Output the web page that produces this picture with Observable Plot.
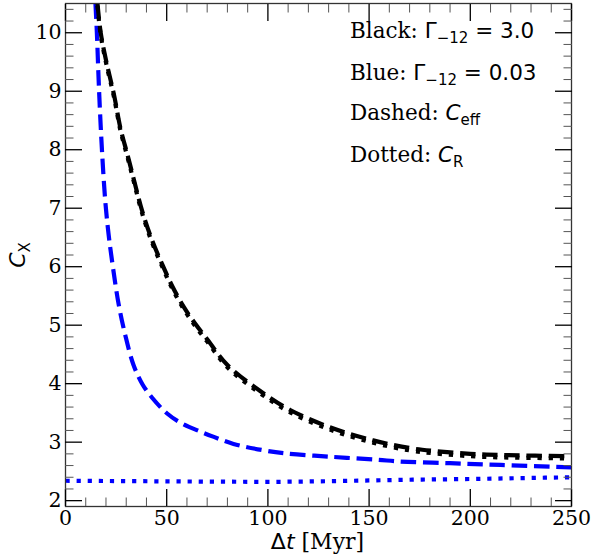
<!DOCTYPE html>
<html><head><meta charset="utf-8">
<script src="https://cdn.jsdelivr.net/npm/d3@7"></script>
<script src="https://cdn.jsdelivr.net/npm/@observablehq/plot@0.6"></script>
<style>body{margin:0;background:#fff}</style>
</head><body><div id="chart"></div>
<script>
// Black (Gamma_-12 = 3.0), dashed C_eff
const blackEffX = [15.8, 17.4, 20.2, 23.9, 27.2, 30.5, 33.7, 37.9, 42.8, 47.8, 52.7, 58.5, 64.2, 70, 80, 96, 111, 131, 152, 170, 182, 200, 215, 232, 250];
const blackEffY = [10.5, 10.0, 9.5, 8.95, 8.36, 7.93, 7.5, 6.95, 6.45, 6.04, 5.67, 5.31, 5.02, 4.76, 4.32, 3.88, 3.55, 3.25, 3.03, 2.9, 2.85, 2.8, 2.78, 2.77, 2.76];
// Black, dotted C_R
const blackRX = [15.8, 17.4, 20.2, 23.9, 27.2, 30.5, 33.7, 37.9, 42.8, 47.8, 52.7, 58.5, 64.2, 70, 80, 96, 111, 131, 152, 170, 182, 200, 215, 232, 250];
const blackRY = [10.46, 9.96, 9.46, 8.91, 8.32, 7.89, 7.46, 6.91, 6.41, 6.0, 5.63, 5.27, 4.98, 4.72, 4.28, 3.84, 3.51, 3.21, 2.99, 2.86, 2.81, 2.76, 2.74, 2.73, 2.72];
// Blue (Gamma_-12 = 0.03), dashed C_eff
const blueEffX = [14.8, 15.5, 16.6, 18.0, 19.7, 21.3, 23.4, 26.3, 29.6, 33.6, 38, 42.8, 50.2, 57, 66.7, 73.3, 83, 98, 108, 131, 154, 165, 190, 215, 250];
const blueEffY = [10.5, 10.0, 9.0, 8.0, 7.1, 6.55, 6.0, 5.35, 4.82, 4.32, 3.99, 3.76, 3.49, 3.33, 3.18, 3.09, 2.97, 2.86, 2.81, 2.75, 2.70, 2.67, 2.64, 2.61, 2.57];
// Blue, dotted C_R
const blueRX = [0, 25, 50, 75, 100, 125, 150, 175, 200, 225, 250];
const blueRY = [2.34, 2.335, 2.33, 2.325, 2.322, 2.33, 2.345, 2.36, 2.37, 2.385, 2.40];

const xMajor = [0, 50, 100, 150, 200, 250];
const yMajor = [2, 3, 4, 5, 6, 7, 8, 9, 10];
const xMinor = d3.range(0, 251, 10).filter(v => v % 50 !== 0);
const yMinor = d3.range(20, 106, 2).filter(v => v % 10 !== 0).map(v => v / 10);

const toRows = (xs, ys) => xs.map((x, i) => ({x, y: ys[i]}));

const BLUE = "#0000ff";
const LW = 4.2;
const dashed = `${(3.7*LW).toFixed(1)},${(1.6*LW).toFixed(1)}`;
const dotted = `${LW},${(1.65*LW).toFixed(1)}`;

const SANS = "DejaVu Sans";
const SERIF = "DejaVu Serif";

function annotations(index, scales, values, dims) {
  const g = d3.create("svg:g").attr("text-anchor", "start");
  const fs = 21.5;
  const subFs = 15;
  const shift = 4.5;
  const x0 = 350;
  const lines = [
    {y: 38, parts: [["Black: ", SERIF], ["Γ", SANS], ["−12", SANS, "sub"], [" = 3.0", SANS]]},
    {y: 80, parts: [["Blue: ", SERIF], ["Γ", SANS], ["−12", SANS, "sub"], [" = 0.03", SANS]]},
    {y: 120, parts: [["Dashed: ", SERIF], ["C", SANS, "it"], ["eff", SANS, "sub"]]},
    {y: 162, parts: [["Dotted: ", SERIF], ["C", SANS, "it"], ["R", SANS, "sub"]]}
  ];
  for (const ln of lines) {
    const t = g.append("text").attr("x", x0).attr("y", ln.y).attr("font-size", fs)
      .attr("fill", "black").attr("text-anchor", "start");
    let sub = false;
    for (const [s, fam, kind] of ln.parts) {
      const ts = t.append("tspan").attr("font-family", fam).text(s);
      if (kind === "it") ts.attr("font-style", "italic");
      if (kind === "sub") { ts.attr("font-size", subFs).attr("dy", shift); sub = true; }
      else if (sub) { ts.attr("dy", -shift); sub = false; }
    }
  }
  // x label
  const xl = g.append("text").attr("x", 317.5).attr("y", 549).attr("font-size", 22)
    .attr("text-anchor", "middle").attr("fill", "black");
  xl.append("tspan").attr("font-family", SANS).text("Δ");
  xl.append("tspan").attr("font-family", SANS).attr("font-style", "italic").text("t");
  xl.append("tspan").attr("font-family", SERIF).text(" [Myr]");
  // y label
  const yl = g.append("text").attr("transform", "translate(25,255) rotate(-90)")
    .attr("font-size", 22).attr("text-anchor", "middle").attr("fill", "black");
  yl.append("tspan").attr("font-family", SANS).attr("font-style", "italic").text("C");
  yl.append("tspan").attr("font-family", SANS).attr("font-size", 15).attr("dy", 4.5).text("X");
  return g.node();
}

const tickOpts = {label: null, tickFormat: () => ""};

const chart = Plot.plot({
  width: 593,
  height: 557,
  marginLeft: 65,
  marginRight: 22,
  marginTop: 3,
  marginBottom: 51,
  x: {domain: [0, 250]},
  y: {domain: [1.9, 10.5]},
  style: {fontFamily: SERIF, fontSize: "20px", background: "white", color: "black"},
  marks: [
    Plot.line(toRows(blueRX, blueRY), {x: "x", y: "y", stroke: BLUE, strokeWidth: LW, strokeDasharray: dotted, strokeLinecap: "butt", curve: "monotone-x", clip: true}),
    Plot.line(toRows(blueEffX, blueEffY), {x: "x", y: "y", stroke: BLUE, strokeWidth: LW, strokeDasharray: dashed, strokeLinecap: "butt", curve: "catmull-rom", clip: true}),
    Plot.line(toRows(blackRX, blackRY), {x: "x", y: "y", stroke: "black", strokeWidth: LW, strokeDasharray: dotted, strokeLinecap: "butt", curve: "catmull-rom", clip: true}),
    Plot.line(toRows(blackEffX, blackEffY), {x: "x", y: "y", stroke: "black", strokeWidth: LW, strokeDasharray: dashed, strokeLinecap: "butt", curve: "catmull-rom", clip: true}),
    Plot.frame({stroke: "#333", strokeWidth: 1.3}),
    Plot.axisX({anchor: "bottom", ticks: xMajor, tickSize: -17, strokeWidth: 1.3, ...tickOpts}),
    Plot.axisX({anchor: "top", ticks: xMajor, tickSize: -17, strokeWidth: 1.3, ...tickOpts}),
    Plot.axisX({anchor: "bottom", ticks: xMinor, tickSize: -8.5, stroke: "#555", ...tickOpts}),
    Plot.axisX({anchor: "top", ticks: xMinor, tickSize: -8.5, stroke: "#555", ...tickOpts}),
    Plot.axisY({anchor: "left", ticks: yMajor, tickSize: -17, strokeWidth: 1.3, ...tickOpts}),
    Plot.axisY({anchor: "right", ticks: yMajor, tickSize: -17, strokeWidth: 1.3, ...tickOpts}),
    Plot.axisY({anchor: "left", ticks: yMinor, tickSize: -8.5, stroke: "#555", ...tickOpts}),
    Plot.axisY({anchor: "right", ticks: yMinor, tickSize: -8.5, stroke: "#555", ...tickOpts}),
    Plot.axisX({anchor: "bottom", ticks: xMajor, tickSize: 0, tickPadding: 4, label: null, fontSize: 20.5, fontFamily: SERIF}),
    Plot.axisY({anchor: "left", ticks: yMajor, tickSize: 0, tickPadding: 4, label: null, fontSize: 20.5, fontFamily: SERIF}),
    annotations
  ]
});
document.getElementById("chart").appendChild(chart);
</script>
</body></html>
